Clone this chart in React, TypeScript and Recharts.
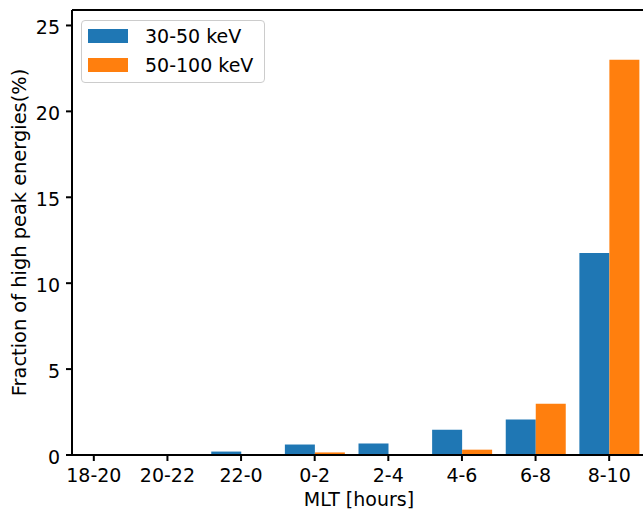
import React from 'react';
import { BarChart, Bar, XAxis, YAxis, Legend, ReferenceLine, Label } from 'recharts';

const categories = ['18-20', '20-22', '22-0', '0-2', '2-4', '4-6', '6-8', '8-10'];
const low = [0, 0, 0.2, 0.61, 0.67, 1.47, 2.06, 11.76];
const high = [0, 0, 0, 0.15, 0, 0.31, 2.99, 23.0];
const yTicks = [0, 5, 10, 15, 20, 25];
const yMax = 25.9;

const data = categories.map((c, i) => ({ mlt: c, low: low[i], high: high[i] }));

const FONT = 'DejaVu Sans';
const FS = 19;

const renderLegend = (props: any) => {
  const payload = props.payload || [];
  return (
    <div
      style={{
        width: 184,
        height: 63,
        boxSizing: 'border-box',
        border: '1px solid #cccccc',
        borderRadius: 4,
        background: 'rgba(255,255,255,0.8)',
        position: 'relative',
        fontFamily: FONT,
        fontSize: FS,
      }}
    >
      {payload.map((entry: any, i: number) => (
        <div
          key={i}
          style={{ position: 'absolute', left: 6, top: 8 + i * 29, display: 'flex', alignItems: 'flex-start' }}
        >
          <div style={{ width: 40, height: 14, background: entry.color }} />
          <span style={{ marginLeft: 17, lineHeight: '14px', color: '#000', whiteSpace: 'nowrap' }}>{entry.value}</span>
        </div>
      ))}
    </div>
  );
};

const YLabel = (p: any) => {
  const vb = p.viewBox || { y: 10, height: 445 };
  const cx = 26;
  const cy = vb.y + vb.height / 2;
  return (
    <text
      x={cx}
      y={cy}
      transform={`rotate(-90 ${cx} ${cy})`}
      textAnchor="middle"
      fontFamily={FONT}
      fontSize={19.4}
      fill="#000"
    >
      Fraction of high peak energies(%)
    </text>
  );
};

export default function App() {
  return (
    <div style={{ position: 'absolute', left: 0, top: 0, width: 643, height: 512, overflow: 'hidden', background: '#fff' }}>
      <BarChart
        width={646}
        height={512}
        data={data}
        margin={{ top: 10, right: 0, bottom: 0, left: 0 }}
        barCategoryGap={7}
        barGap={0}
        style={{ fontFamily: FONT }}
      >
        <XAxis
          dataKey="mlt"
          height={57}
          padding={{ left: -15, right: 0 }}
          interval={0}
          tickSize={6}
          tickMargin={8}
          axisLine={{ stroke: '#000', strokeWidth: 2 }}
          tickLine={{ stroke: '#000', strokeWidth: 2 }}
          tick={{ fill: '#000', fontSize: FS, fontFamily: FONT }}
        >
          <Label value="MLT [hours]" position="insideBottom" offset={6} fill="#000" fontSize={FS} fontFamily={FONT} />
        </XAxis>
        <YAxis
          width={72}
          domain={[0, yMax]}
          ticks={yTicks}
          allowDataOverflow
          tickSize={6}
          tickMargin={6}
          axisLine={{ stroke: '#000', strokeWidth: 2 }}
          tickLine={{ stroke: '#000', strokeWidth: 2 }}
          tick={{ fill: '#000', fontSize: FS, fontFamily: FONT, dy: 2 }}
        >
          <Label content={YLabel} />
        </YAxis>
        <ReferenceLine y={yMax} stroke="#000" strokeWidth={2} ifOverflow="visible" />
        <Bar dataKey="low" name="30-50 keV" fill="#1f77b4" isAnimationActive={false} />
        <Bar dataKey="high" name="50-100 keV" fill="#ff7f0e" isAnimationActive={false} />
        <Legend
          layout="horizontal"
          verticalAlign="middle"
          align="center"
          wrapperStyle={{ left: 81, top: 20, width: 184, height: 63 }}
          content={renderLegend}
        />
      </BarChart>
    </div>
  );
}
